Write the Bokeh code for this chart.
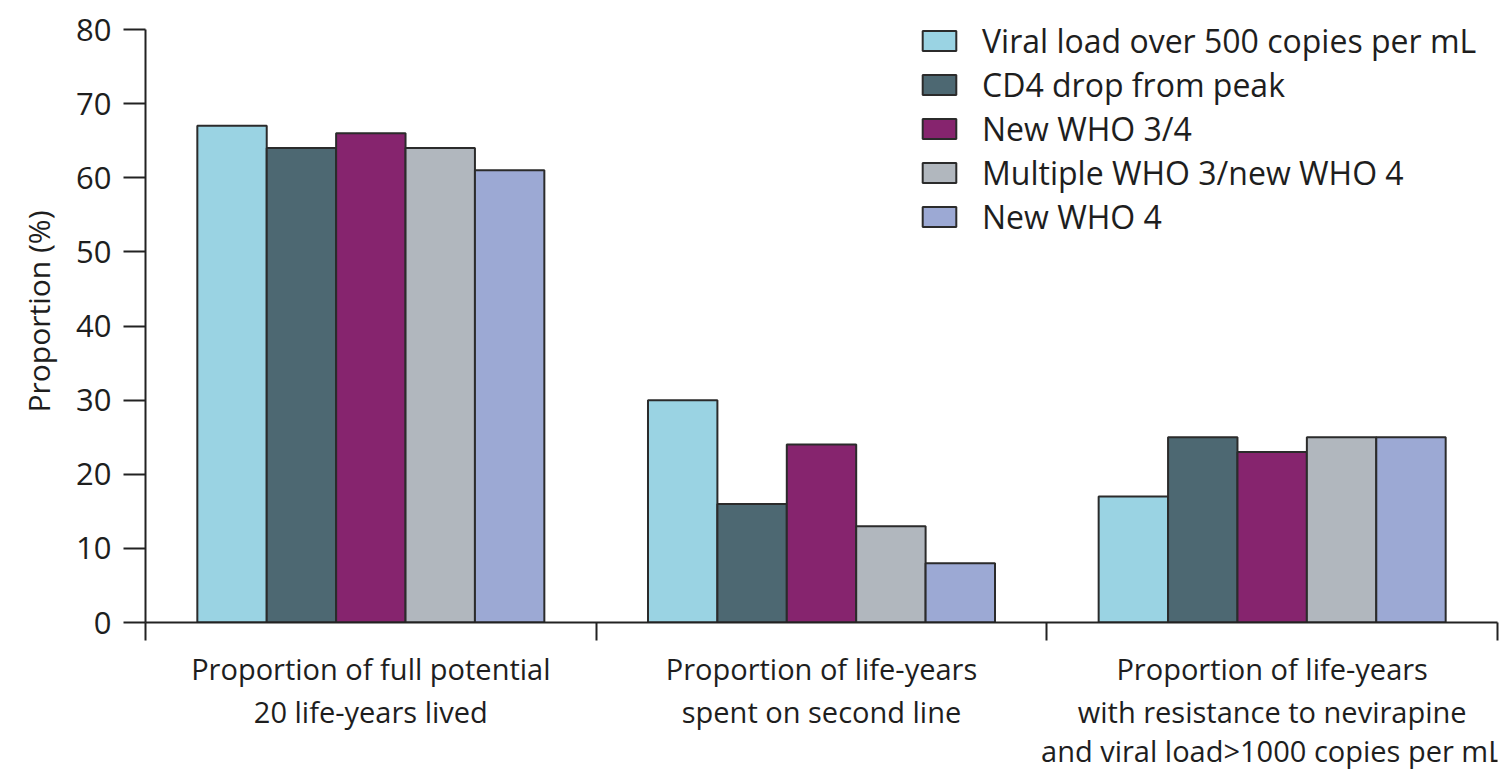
from bokeh.plotting import figure
from bokeh.layouts import column
from bokeh.models import ColumnDataSource, FixedTicker, Range1d, Legend, LegendItem
from bokeh.core.properties import value
from bokeh.embed import file_html
from bokeh.resources import INLINE

groups = ["Proportion of full potential\n20 life-years lived",
          "Proportion of life-years\nspent on second line",
          "Proportion of life-years\nwith resistance to nevirapine\nand viral load>1000 copies per mL"]
series = ["Viral load over 500 copies per mL", "CD4 drop from peak", "New WHO 3/4",
          "Multiple WHO 3/new WHO 4", "New WHO 4"]
viral_load = [67, 30, 17]
cd4_drop = [64, 16, 25]
new_who_34 = [66, 24, 23]
multiple_who = [64, 13, 25]
new_who_4 = [61, 8, 25]
colors = ["#9AD3E3", "#4D6872", "#86246E", "#B1B7BE", "#9CA9D4"]
y_ticks = [0, 10, 20, 30, 40, 50, 60, 70, 80]

values = [viral_load, cd4_drop, new_who_34, multiple_who, new_who_4]
FONT = "Open Sans"
TXT = "#1e1e1e"
FS = "30px"
W = 1511

# frame spans the full top of the canvas; 80 sits 29 px below the top edge
frame_h, top_pad = 622, 29
y_max = y_ticks[-1] * frame_h / (frame_h - top_pad)

p = figure(width=W, height=647, output_backend="svg", toolbar_location=None,
           x_range=Range1d(0, 3), y_range=Range1d(0, y_max),
           min_border_left=145, min_border_right=14, min_border_top=0, min_border_bottom=25)
p.outline_line_color = None
p.grid.visible = False

bw = 0.154
items = []
for j, (name, vals, col) in enumerate(zip(series, values, colors)):
    xs = [i + 0.5 + (j - 2) * bw for i in range(len(groups))]
    src = ColumnDataSource(dict(x=xs, top=vals))
    r = p.vbar(x="x", top="top", bottom=0, width=bw, source=src, fill_color=col,
               line_color="#2b2b2b", line_width=2)
    items.append(LegendItem(label=name, renderers=[r]))

legend = Legend(items=items, location=(773, 384), glyph_width=42, glyph_height=25,
                spacing=1, label_standoff=22, label_text_font=FONT,
                label_text_font_size="32px", label_text_color=TXT,
                background_fill_alpha=0, border_line_color=None, padding=0, margin=0)
p.add_layout(legend, "center")

# y axis
ya = p.yaxis[0]
ya.ticker = FixedTicker(ticks=y_ticks, minor_ticks=[])
ya.bounds = (y_ticks[0], y_ticks[-1])
ya.axis_label = "Proportion (%)"
ya.axis_label_text_font = FONT
ya.axis_label_text_font_style = "normal"
ya.axis_label_text_font_size = FS
ya.axis_label_text_color = TXT
ya.axis_label_standoff = 14
ya.major_label_text_font = FONT
ya.major_label_text_font_size = "31px"
ya.major_label_text_color = TXT
ya.major_label_standoff = 12
ya.major_tick_out = 22
ya.major_tick_in = 0
ya.major_tick_line_width = 2
ya.axis_line_width = 2
ya.axis_line_color = "#222222"
ya.major_tick_line_color = "#222222"

# x axis: only boundary ticks (as minor ticks, so no tick labels)
xa = p.xaxis[0]
xa.ticker = FixedTicker(ticks=[], minor_ticks=[0, 1, 2, 3])
xa.major_tick_out = 0
xa.major_tick_in = 0
xa.minor_tick_out = 18
xa.minor_tick_in = 0
xa.minor_tick_line_width = 2
xa.minor_tick_line_color = "#222222"
xa.axis_line_width = 2
xa.axis_line_color = "#222222"

# category labels in a strip below, sharing the x range
line_y_px = [21, 64, 103]
lx, ly, lt = [], [], []
for i, g in enumerate(groups):
    for k, line in enumerate(g.split("\n")):
        lx.append(i + 0.5)
        ly.append(line_y_px[k])
        lt.append(line)

p2 = figure(width=W, height=122, output_backend="svg", toolbar_location=None,
            x_range=p.x_range, y_range=Range1d(122, 0),
            min_border_left=145, min_border_right=14, min_border_top=0, min_border_bottom=0,
            x_axis_location=None, y_axis_location=None)
p2.outline_line_color = None
p2.grid.visible = False
p2.text(x="x", y="y", text="t", source=ColumnDataSource(dict(x=lx, y=ly, t=lt)),
        text_align="center", text_baseline="middle", text_font=value(FONT),
        text_font_size=value("29px"), text_color=TXT)

open("out.html", "w").write(file_html(column(p, p2, spacing=0), INLINE))
